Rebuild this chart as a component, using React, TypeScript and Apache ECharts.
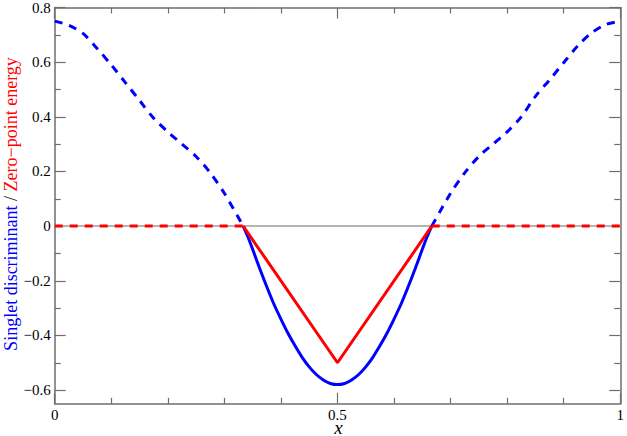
import React, { useEffect, useRef } from "react";
import * as echarts from "echarts";

// Singlet discriminant (blue): dashed outside [1/3, 2/3], solid inside
const xLeft = [0, 0.025, 0.05, 0.075, 0.1, 0.125, 0.15, 0.175, 0.2, 0.225, 0.25, 0.275, 0.3, 0.3333];
const singletLeft = [0.75, 0.735, 0.705, 0.65, 0.59, 0.525, 0.46, 0.395, 0.345, 0.3, 0.255, 0.195, 0.12, 0];

const xMid = [0.3333, 0.3417, 0.35, 0.3625, 0.375, 0.3875, 0.4, 0.4125, 0.425, 0.4375, 0.45, 0.4625, 0.475, 0.4875, 0.5,
  0.5125, 0.525, 0.5375, 0.55, 0.5625, 0.575, 0.5875, 0.6, 0.6125, 0.625, 0.6375, 0.65, 0.6583, 0.6667];
const singletMid = [0, -0.04, -0.085, -0.155, -0.222, -0.285, -0.34, -0.392, -0.438, -0.48, -0.515, -0.543, -0.563, -0.576, -0.58,
  -0.576, -0.563, -0.543, -0.515, -0.48, -0.438, -0.392, -0.34, -0.285, -0.222, -0.155, -0.085, -0.04, 0];

const xRight = [0.6667, 0.7, 0.725, 0.75, 0.775, 0.8, 0.825, 0.85, 0.875, 0.9, 0.925, 0.95, 0.975, 1];
const singletRight = [0, 0.12, 0.195, 0.255, 0.3, 0.345, 0.4, 0.475, 0.535, 0.598, 0.66, 0.708, 0.738, 0.75];

// Zero-point energy (red)
const zpeDashLeftX = [0, 0.3333];
const zpeDashLeft = [0, 0];
const zpeSolidX = [0.3333, 0.5, 0.6667];
const zpeSolid = [0, -0.5, 0];
const zpeDashRightX = [0.6667, 1];
const zpeDashRight = [0, 0];

const zeroLineX = [0, 1];
const zeroLine = [0, 0];

// Axis ticks
const yMajorTicks = [-0.6, -0.4, -0.2, 0, 0.2, 0.4, 0.6, 0.8];
const yMinorTicks = [-0.5, -0.3, -0.1, 0.1, 0.3, 0.5, 0.7];
const Y_MIN = -0.65;
const Y_MAX = 0.8;

const pairs = (xs: number[], ys: number[]) => xs.map((x, i) => [x, ys[i]]);

const FONT = "'Liberation Serif', 'Times New Roman', 'DejaVu Serif', serif";
const AXIS_COLOR = "#6e6e6e";
const BLUE = "#0000ff";
const RED = "#ff0000";

const fmt = (v: number) => {
  if (Math.abs(v) < 1e-9) return "0";
  const s = Math.abs(v).toFixed(1).replace(/\.0$/, "");
  return (v < 0 ? "\u2212" : "") + s;
};

export default function App() {
  const ref = useRef<HTMLDivElement>(null);
  useEffect(() => {
    if (!ref.current) return;
    const chart = echarts.init(ref.current, undefined, { renderer: "svg" });
    const axisLine = { show: true, onZero: false, lineStyle: { color: AXIS_COLOR, width: 1.5 } };
    const tickStyle = { color: AXIS_COLOR, width: 1.2 };
    const yBase = { type: "value", min: Y_MIN, max: Y_MAX, splitLine: { show: false } };
    const yMajor = (position: string, showLabel: boolean) => ({
      ...yBase,
      position,
      offset: 0,
      axisLine,
      axisTick: { show: true, inside: true, length: 11, lineStyle: tickStyle, customValues: yMajorTicks },
      axisLabel: showLabel
        ? { show: true, margin: 4, color: "#000", fontFamily: FONT, fontSize: 15, formatter: fmt, customValues: yMajorTicks }
        : { show: false },
    });
    const yMinor = (position: string) => ({
      ...yBase,
      position,
      offset: 0,
      axisLine: { show: false, onZero: false },
      axisTick: { show: true, inside: true, length: 6, lineStyle: tickStyle, customValues: yMinorTicks },
      axisLabel: { show: false },
    });
    const xCommon = {
      type: "value", min: 0, max: 1, interval: 0.5,
      axisLine,
      axisTick: { show: true, inside: true, length: 11, lineStyle: tickStyle },
      minorTick: { show: true, splitNumber: 5, length: 6, lineStyle: tickStyle },
      splitLine: { show: false },
      minorSplitLine: { show: false },
    };
    const line = (data: number[][], color: string, dashed: boolean, z = 2, smooth: number | boolean = 0.3) => ({
      type: "line",
      data,
      showSymbol: false,
      symbol: "none",
      silent: true,
      smooth,
      z,
      lineStyle: { color, width: 3, type: dashed ? [8, 7] : "solid", cap: "butt" },
    });
    chart.setOption({
      animation: false,
      backgroundColor: "#ffffff",
      grid: { left: 54.7, right: 4.7, top: 5, bottom: 32.25, containLabel: false },
      xAxis: [
        {
          ...xCommon,
          position: "bottom",
          axisLabel: { show: true, margin: 5, color: "#000", fontFamily: FONT, fontSize: 15, lineHeight: 13, formatter: fmt },
        },
        { ...xCommon, position: "top", axisLabel: { show: false } },
      ],
      yAxis: [yMajor("left", true), yMinor("left"), yMajor("right", false), yMinor("right")],
      series: [
        {
          type: "line", data: pairs(zeroLineX, zeroLine), showSymbol: false, symbol: "none", silent: true, z: 1,
          lineStyle: { color: "#b4b4b4", width: 2 },
        },
        line(pairs(xLeft, singletLeft), BLUE, true),
        line(pairs(xMid, singletMid), BLUE, false),
        line(pairs(xRight, singletRight), BLUE, true),
        line(pairs(zpeDashLeftX, zpeDashLeft), RED, true, 3, false),
        line(pairs(zpeSolidX, zpeSolid), RED, false, 3, false),
        line(pairs(zpeDashRightX, zpeDashRight), RED, true, 3, false),
      ],
      graphic: [
        {
          type: "text",
          x: 11,
          y: 204,
          rotation: Math.PI / 2,
          style: {
            text: "{b|Singlet discriminant} {k|/} {r|Zero\u2212point energy}",
            align: "center",
            verticalAlign: "middle",
            fontFamily: FONT,
            fontSize: 18,
            rich: {
              b: { fill: BLUE, fontFamily: FONT, fontSize: 18 },
              k: { fill: "#000", fontFamily: FONT, fontSize: 18 },
              r: { fill: RED, fontFamily: FONT, fontSize: 18 },
            },
          },
        },
        {
          type: "text",
          x: 338.5,
          y: 427,
          style: {
            text: "x",
            align: "center",
            verticalAlign: "middle",
            fontFamily: FONT,
            fontStyle: "italic",
            fontSize: 19,
            lineHeight: 12,
            fill: "#000",
          },
        },
      ],
    });
    return () => chart.dispose();
  }, []);
  return <div ref={ref} style={{ width: 627, height: 436, position: "absolute", left: 0, top: 0 }} />;
}
